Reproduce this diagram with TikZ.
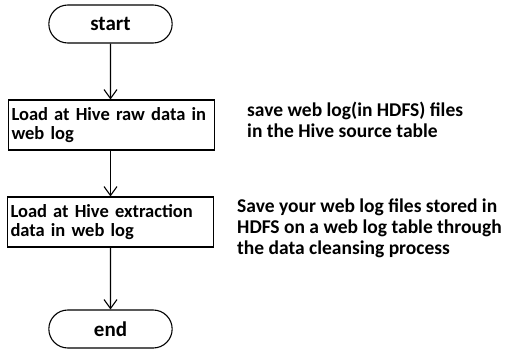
\documentclass[tikz,border=0pt]{standalone}
\usepackage{fontspec}
\setmainfont{Carlito}
\usetikzlibrary{arrows.meta,shapes.misc}
\begin{document}
\begin{tikzpicture}[x=1pt,y=-1pt,
  term/.style={draw,line width=1.1pt,rounded rectangle,minimum width=130pt,minimum height=38pt,font=\fontsize{21}{24}\selectfont\bfseries},
  proc/.style={draw,line width=1.1pt,rectangle,minimum width=206pt,minimum height=50pt,inner sep=2pt,align=left,text width=200pt,font=\fontsize{18.5}{18.5}\selectfont\bfseries},
  note/.style={align=left,anchor=north west,inner sep=0pt,font=\fontsize{19.5}{21}\selectfont\bfseries},
  flow/.style={line width=1.1pt,-{Straight Barb[length=9pt,width=13pt]}}]
\useasboundingbox (0,0) rectangle (505,353);
\node[term] (start) at (110.5,24) {start};
\node[proc] (p1) at (111.5,125) {Load at Hive raw data in\\web log};
\node[proc] (p2) at (110.5,222) {Load at Hive extraction\\data in web log};
\node[term] (end) at (110.5,329) {end};
\draw[flow] (start) -- (start.south |- p1.north);
\draw[flow] (p1.south -| start) -- (start |- p2.north);
\draw[flow] (p2.south -| start) -- (end);
\node[note] (n1) at (247,102) {save web log(in HDFS) files\\in the Hive source table};
\node[note] (n2) at (237,199) {Save your web log files stored in\\HDFS on a web log table through\\the data cleansing process};
\end{tikzpicture}
\end{document}
